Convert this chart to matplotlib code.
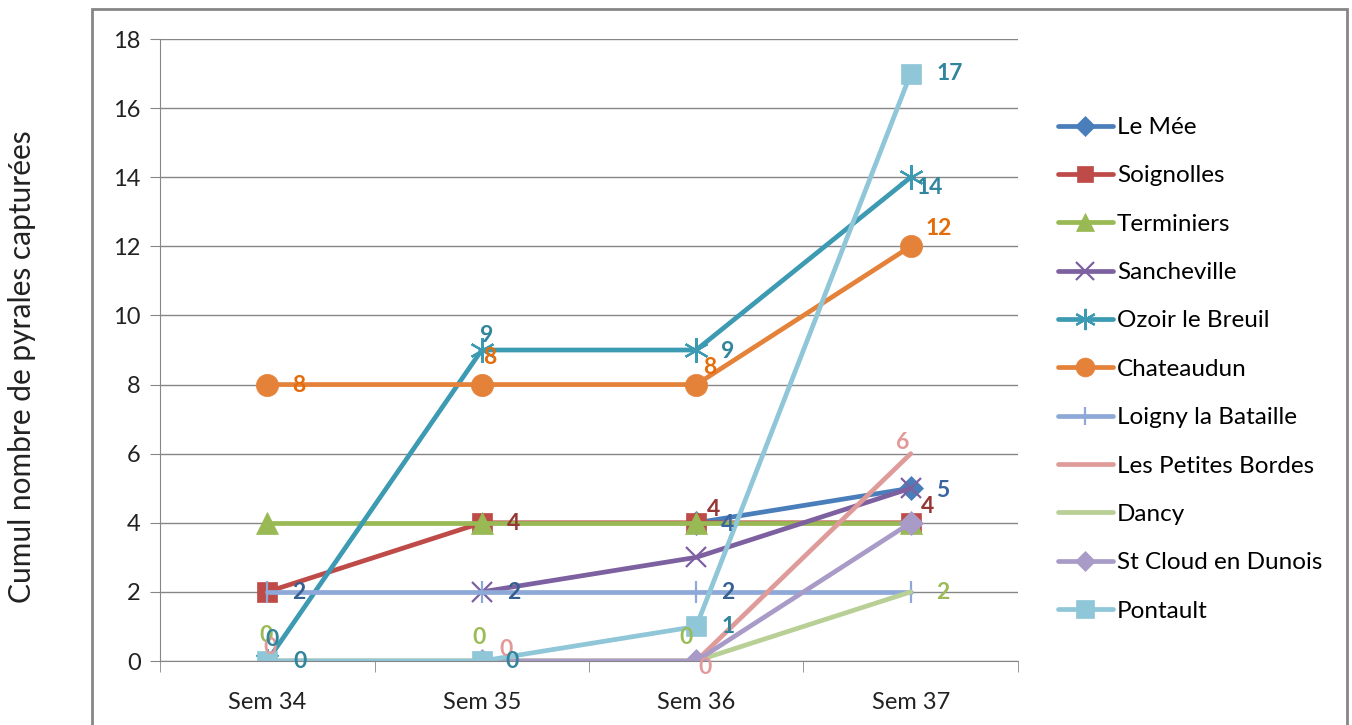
import numpy as np
import matplotlib
matplotlib.use("Agg")
import matplotlib.pyplot as plt
from matplotlib.patches import Rectangle

plt.rcParams['font.family'] = ['Lato', 'DejaVu Sans']

# donnees
semaines = ["Sem 34", "Sem 35", "Sem 36", "Sem 37"]
nan = np.nan
le_mee = [nan, nan, 4, 5]
soignolles = [2, 4, 4, 4]
terminiers = [4, 4, 4, 4]
sancheville = [nan, 2, 3, 5]
ozoir = [0, 9, 9, 14]
chateaudun = [8, 8, 8, 12]
loigny = [2, 2, 2, 2]
petites_bordes = [0, 0, 0, 6]
dancy = [0, 0, 0, 2]
st_cloud = [nan, 0, 0, 4]
pontault = [0, 0, 1, 17]

noms = ["Le Mée", "Soignolles", "Terminiers", "Sancheville", "Ozoir le Breuil",
        "Chateaudun", "Loigny la Bataille", "Les Petites Bordes", "Dancy",
        "St Cloud en Dunois", "Pontault"]
series = [le_mee, soignolles, terminiers, sancheville, ozoir, chateaudun,
          loigny, petites_bordes, dancy, st_cloud, pontault]

# styles : couleur ligne, marqueur, taille, couleur etiquette
styles = [
    ("#4A7EBB", "D", 12, "#3A65A0"),
    ("#BE4B48", "s", 14, "#953735"),
    ("#98B954", "^", 16, "#77933C"),
    ("#7D60A0", "x", 15, "#604A7B"),
    ("#3C9AB2", (6, 2, 0), 18, "#31859C"),
    ("#E5823A", "o", 16, "#E46C0A"),
    ("#8EA9D8", "|", 16, "#376092"),
    ("#DE9B99", None, 0, "#E29A98"),
    ("#B8CF95", None, 0, "#9BBB59"),
    ("#A99BC8", "D", 12, "#8064A2"),
    ("#8FC6D8", "s", 15, "#31859C"),
]

# etiquettes : (index serie, index semaine, dx px, dy px)
etiquettes = [
    (0, 2, 25, -2), (0, 3, 25, -2),
    (1, 1, 25, -1), (1, 2, 11, 13), (1, 3, 10, 16),
    (6, 0, 25, -1), (6, 1, 25, -1), (6, 2, 25, -1),
    (8, 0, -8, 25), (8, 1, -9, 23), (8, 2, -17, 24), (8, 3, 25, -1),
    (7, 0, -4, 13), (7, 1, 18, 12), (7, 2, 2, -6), (7, 3, -15, 11),
    (4, 0, -2, 21), (4, 1, -2, 14), (4, 2, 25, -1), (4, 3, 6, -10),
    (5, 0, 25, -1), (5, 1, 1, 27), (5, 2, 7, 17), (5, 3, 15, 18),
    (10, 0, 26, -1), (10, 1, 24, -1), (10, 2, 25, 0), (10, 3, 26, 0),
]

fig = plt.figure(figsize=(13.52, 7.25), dpi=100)
ax = fig.add_axes([160 / 1352, 1 - 661 / 725, 858 / 1352, 622 / 725])

x = np.arange(len(semaines))
for nom, vals, (col, mk, ms, _) in zip(noms, series, styles):
    fin = mk in ("x", "|") or isinstance(mk, tuple)
    ax.plot(x, vals, color=col, linewidth=3.4, marker=mk, markersize=ms,
            markeredgewidth=1.6 if fin else 0.5,
            markeredgecolor=col, label=nom, solid_capstyle='round')

for si, wi, dx, dy in etiquettes:
    v = series[si][wi]
    ax.annotate(str(int(v)), (x[wi], v), xytext=(dx * 0.72, dy * 0.72),
                textcoords='offset points', ha='left', va='center',
                fontsize=16.5, fontweight='bold', color=styles[si][3], zorder=10)

ax.set_xlim(-0.5, 3.5)
ax.set_ylim(0, 18)
ax.set_yticks(range(0, 19, 2))
ax.set_xticks(x)
ax.set_xticklabels(semaines)
ax.set_xticks(np.arange(-0.5, 4, 1), minor=True)
ax.tick_params(axis='x', which='major', length=0, pad=22, labelsize=17, labelcolor='#222222')
ax.tick_params(axis='x', which='minor', length=8, color='#868686', direction='out')
ax.tick_params(axis='y', length=7, color='#868686', pad=7, labelsize=17, labelcolor='#222222')
ax.grid(axis='y', color='#868686', linewidth=1)
ax.set_axisbelow(True)
for s in ['top', 'right']:
    ax.spines[s].set_visible(False)
ax.spines['left'].set_color('#868686')
ax.spines['bottom'].set_color('#868686')

fig.text(22 / 1352, 1 - 367 / 725, "Cumul nombre de pyrales capturées",
         rotation=90, ha='center', va='center', fontsize=21.5, color='#222222')

fig.legend(loc='upper left', bbox_to_anchor=(1058 / 1352, 1 - 117 / 725),
           frameon=False, fontsize=17.5, handlelength=2.26, handletextpad=0.16,
           labelspacing=1.125, borderaxespad=0, borderpad=0, markerscale=0.85)

fig.patches.append(Rectangle((92 / 1352, -0.1), 1255 / 1352, 1.1 - 9 / 725,
                             transform=fig.transFigure, fill=False,
                             edgecolor='#868686', linewidth=2))

fig.savefig("out.png", dpi=100)
